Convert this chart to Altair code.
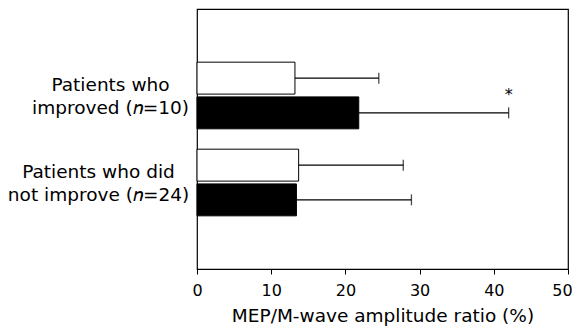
import altair as alt
import pandas as pd

groups = ["Patients who|improved (𝑛=10)", "Patients who did|not improve (𝑛=24)"]
conditions = ["pre", "post"]
means = [[13.2, 21.8], [13.7, 13.4]]
uppers = [[24.5, 42.0], [27.8, 28.9]]
marks = [["", "*"], ["", ""]]

rows = []
for gi, g in enumerate(groups):
    for ci, c in enumerate(conditions):
        rows.append({"group": g, "cond": c, "mean": means[gi][ci],
                     "upper": uppers[gi][ci], "sig": marks[gi][ci]})
df = pd.DataFrame(rows)

FONT = "DejaVu Sans"

y_enc = alt.Y("group:N", sort=groups, title=None,
              scale=alt.Scale(paddingInner=0.234, paddingOuter=0.611),
              axis=alt.Axis(labelExpr="split(datum.label, '|')", labelAlign="center",
                            labelBaseline="middle",
                            labelPadding=alt.expr(f"datum.value == '{groups[0]}' ? 87 : 99"),
                            labelOffset=-10.5, ticks=False, tickSize=0,
                            domain=False, labelFont=FONT, labelFontSize=18.5,
                            labelLineHeight=23, labelColor="black", labelLimit=300))
yoff = alt.YOffset("cond:N", sort=conditions,
                   scale=alt.Scale(paddingInner=0.08, paddingOuter=0))
x_enc = alt.X("mean:Q", scale=alt.Scale(domain=[0, 50], nice=False),
              title="MEP/M-wave amplitude ratio (%)",
              axis=alt.Axis(values=[0, 10, 20, 30, 40, 50], grid=False, tickSize=5,
                            labelPadding=8, labelFont=FONT, labelFontSize=16,
                            labelOffset=alt.expr("datum.value == 50 ? -6 : 0"),
                            labelColor="black", titleFont=FONT, titleFontSize=18.5,
                            titleFontWeight="normal", titleColor="black", titlePadding=8,
                            domainColor="black", tickColor="black", labelFlush=False))

bars = alt.Chart(df).mark_bar(stroke="black", strokeWidth=1).encode(
    x=x_enc, y=y_enc, yOffset=yoff,
    fill=alt.Fill("cond:N", scale=alt.Scale(domain=conditions, range=["white", "black"]), legend=None),
)
rules = alt.Chart(df).mark_rule(color="black", strokeWidth=1.2).encode(
    x="mean:Q", x2="upper:Q", y=alt.Y("group:N", sort=groups), yOffset=yoff)
caps = alt.Chart(df).mark_tick(color="black", size=11, thickness=1.3).encode(
    x="upper:Q", y=alt.Y("group:N", sort=groups), yOffset=yoff)
star = alt.Chart(df).mark_text(font=FONT, fontSize=16, color="black", dy=-13,
                               baseline="alphabetic", align="center").encode(
    x="upper:Q", y=alt.Y("group:N", sort=groups), yOffset=yoff, text="sig:N")

chart = alt.layer(bars, rules, caps, star).properties(
    width=371, height=260,
    autosize=alt.AutoSizeParams(type="none"),
    padding={"left": 189, "top": 1, "right": 4, "bottom": 59},
).configure_view(stroke="black", strokeWidth=1.2)

chart.save("out.html", embed_options={"renderer": "svg", "actions": False})
